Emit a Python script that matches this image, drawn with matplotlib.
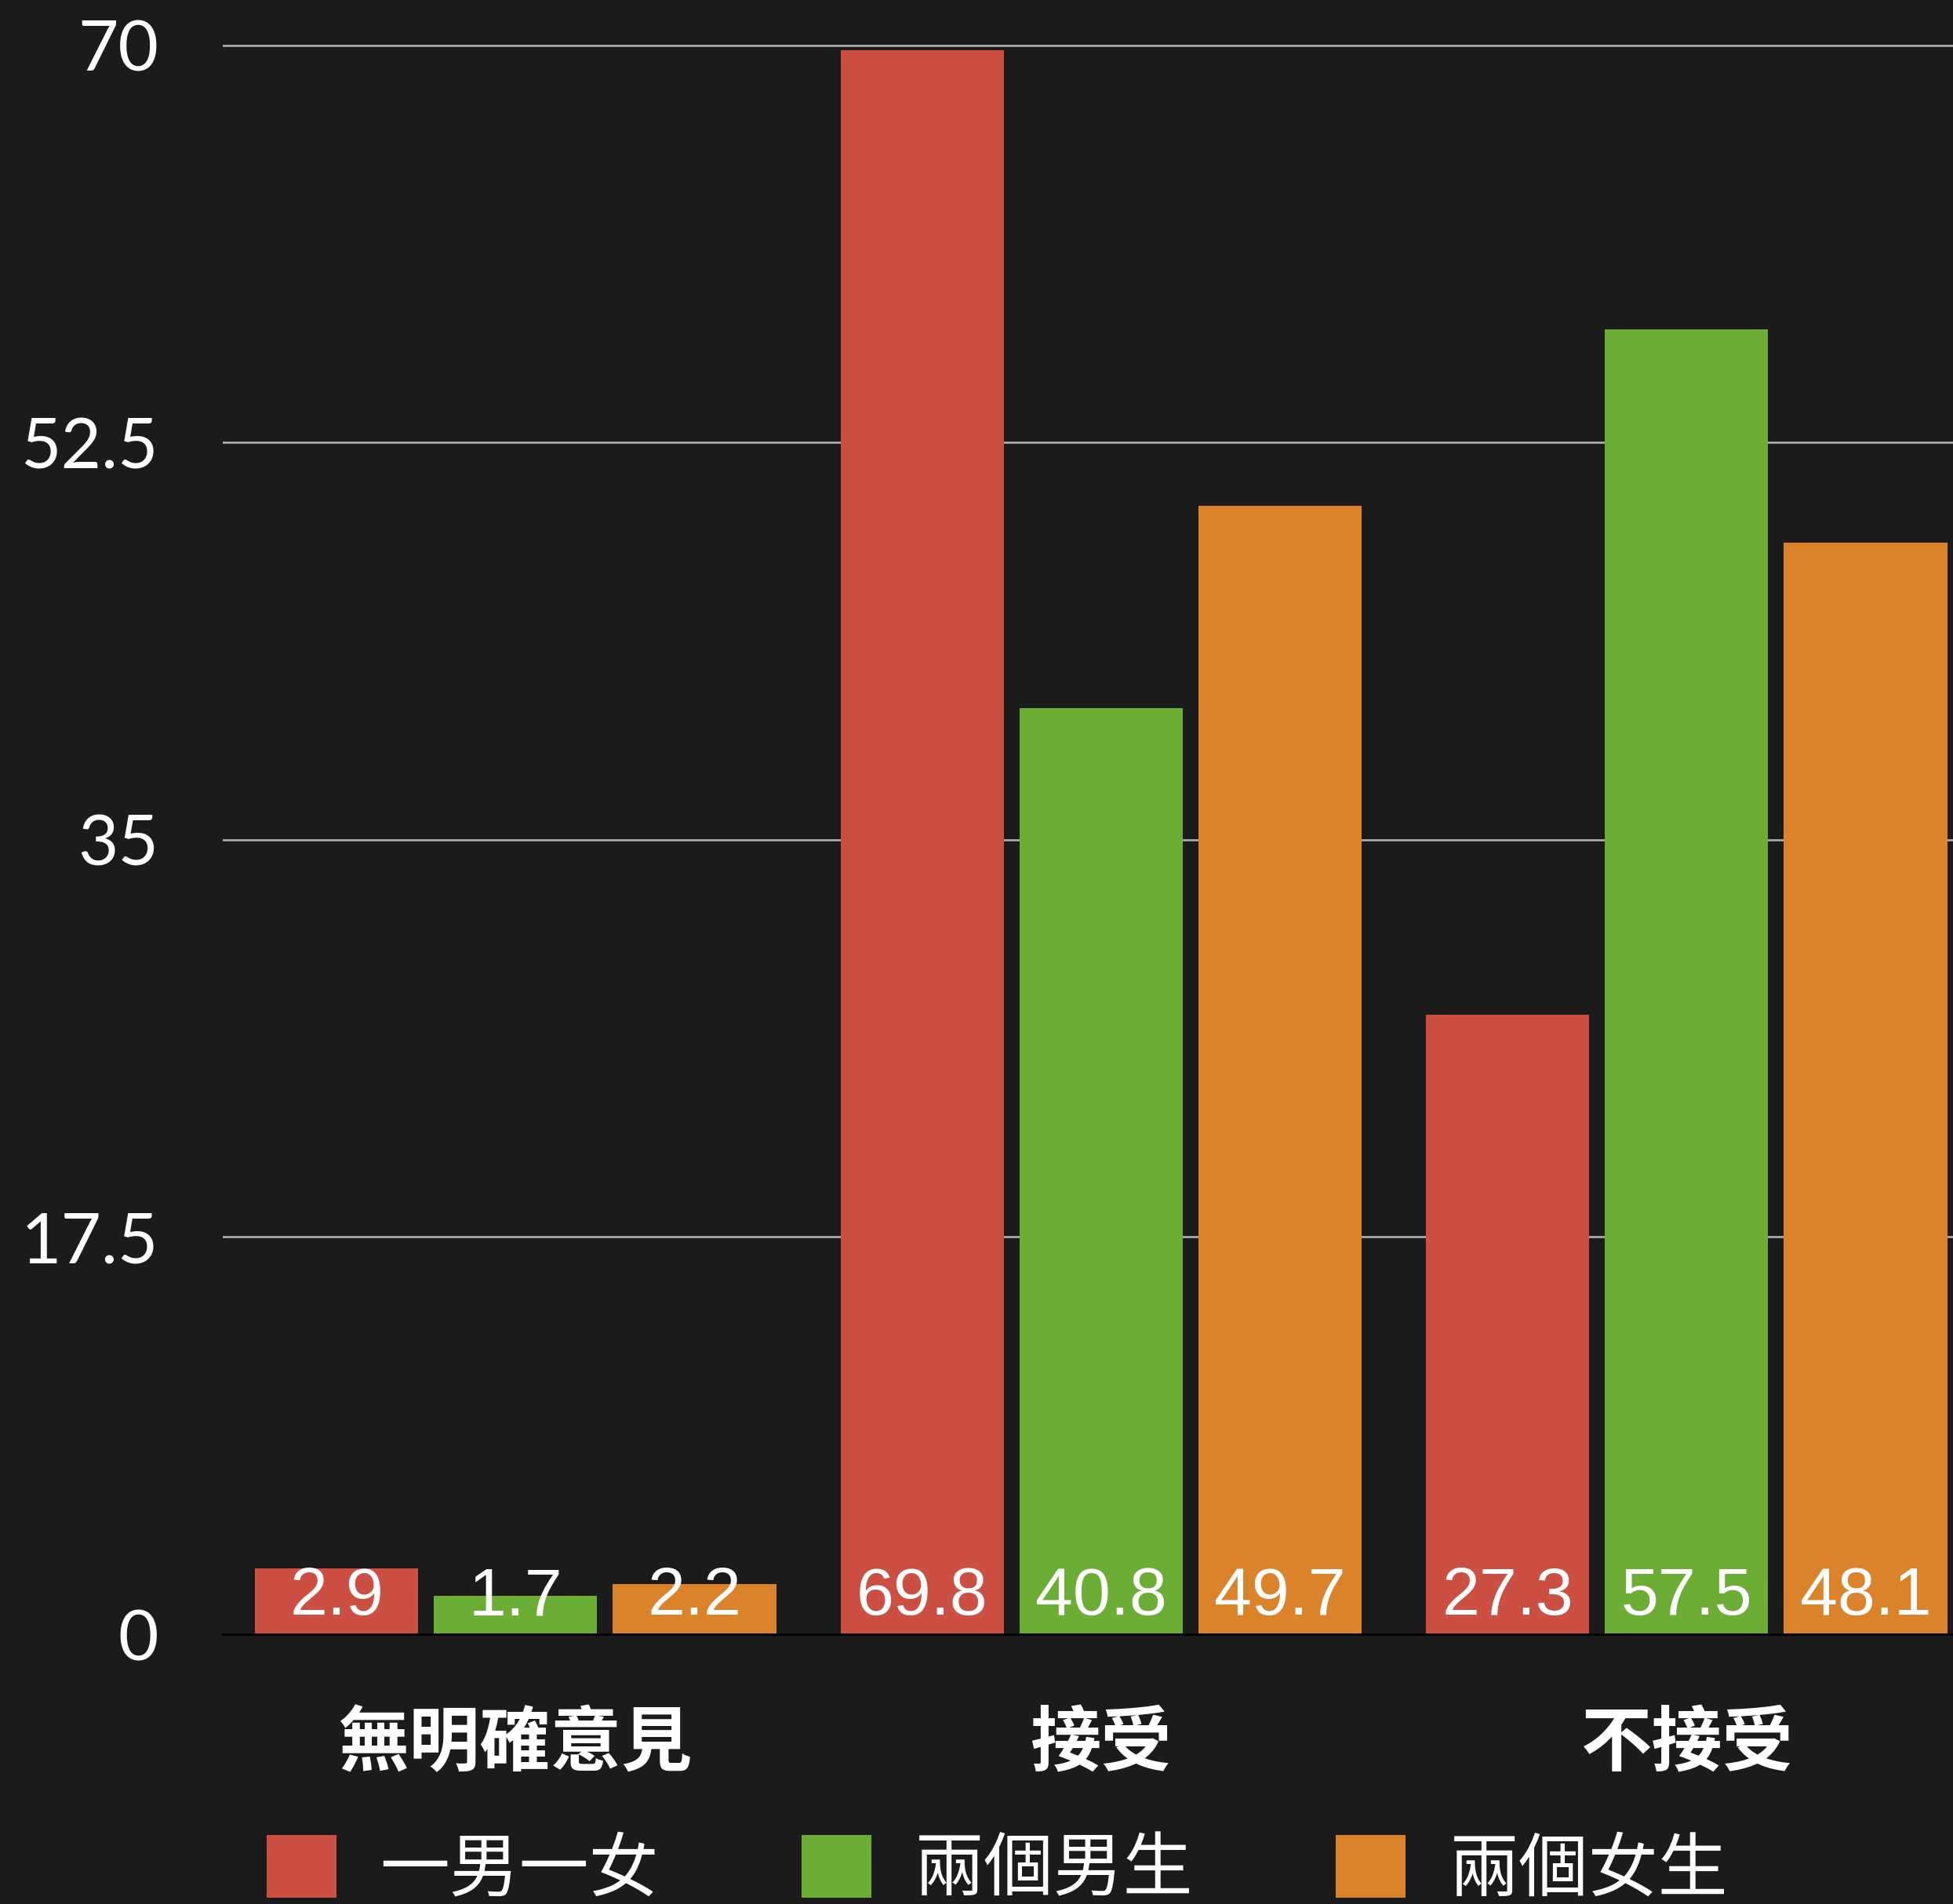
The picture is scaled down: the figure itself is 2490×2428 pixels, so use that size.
import matplotlib.pyplot as plt
from matplotlib.patches import Patch
import numpy as np

categories = ['無明確意見', '接受', '不接受']
series = ['一男一女', '兩個男生', '兩個女生']
one_each = [2.9, 69.8, 27.3]
two_boys = [1.7, 40.8, 57.5]
two_girls = [2.2, 49.7, 48.1]
yticks = [0, 17.5, 35, 52.5, 70]
ytick_labels = ['0', '17.5', '35', '52.5', '70']

colors = ['#CC4F44', '#6BAD35', '#DA832B']
bg = '#1b1b1b'
cjk = ['Noto Sans CJK TC', 'DejaVu Sans']

W, H = 2490, 2428
fig = plt.figure(figsize=(W / 100, H / 100), dpi=100, facecolor=bg)
ax = fig.add_axes([284 / W, 344 / H, (W - 284) / W, 2084 / H])
ax.set_facecolor(bg)

x = np.arange(len(categories))
width = 0.279
step = 0.3056
values = [one_each, two_boys, two_girls]
for i, vals in enumerate(values):
    bars = ax.bar(x + (i - 1) * step, vals, width, color=colors[i], zorder=2)
    for b, v in zip(bars, vals):
        ax.annotate(str(v), (b.get_x() + b.get_width() / 2, 0),
                    xytext=(0, 18), textcoords='offset points',
                    ha='center', va='baseline', color='white',
                    fontsize=62, family='Liberation Sans', zorder=3)

ax.set_xlim(-0.5, 2.455)
ax.set_ylim(0, 72)
ax.set_yticks(yticks)
ax.set_yticklabels(ytick_labels, family='Lato', fontsize=64, color='white')
ax.yaxis.grid(True, color='#b0b0b0', linewidth=1.9, zorder=1)
ax.set_axisbelow(True)
ax.tick_params(axis='y', length=0, pad=59)
ax.set_xticks(x)
ax.set_xticklabels(categories, family=cjk, fontsize=65, fontweight='bold', color='white')
ax.tick_params(axis='x', length=0, pad=68)
for s in ['top', 'right', 'left']:
    ax.spines[s].set_visible(False)
ax.spines['bottom'].set_color('black')
ax.spines['bottom'].set_linewidth(2.2)
ax.spines['bottom'].set_zorder(4)

handles = [Patch(facecolor=c) for c in colors]
leg = fig.legend(handles, series, loc='center left', bbox_to_anchor=(340 / W, 43 / H),
                 ncol=3, frameon=False, borderpad=0, borderaxespad=0,
                 handlelength=1.0, handleheight=1.0, handletextpad=0.62,
                 columnspacing=2.05, prop={'family': cjk, 'size': 64})
for t in leg.get_texts():
    t.set_color('white')

fig.savefig('out.png', dpi=100, facecolor=bg)
